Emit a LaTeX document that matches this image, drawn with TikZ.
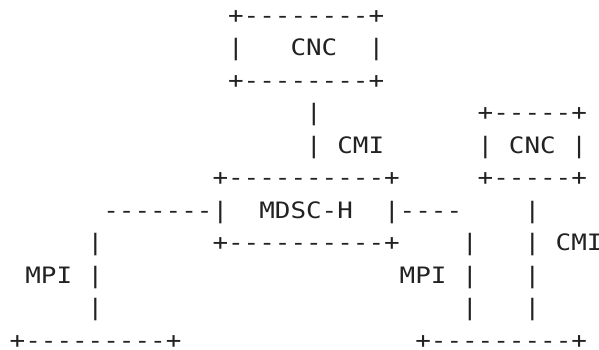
\documentclass[tikz,border=0pt]{standalone}
\usepackage{fontspec}
\setmonofont{DejaVu Sans Mono}[FakeStretch=1.147]
\definecolor{ink}{HTML}{222222}
\begin{document}
\begin{tikzpicture}[x=1pt,y=-1pt,
  seg/.style={inner sep=0pt,outer sep=0pt,anchor=base west,text=ink,
    font=\ttfamily\fontsize{22.6}{27}\selectfont}]
\useasboundingbox (0,0) rectangle (599,349);
\newcommand\sg[4]{\node[seg] (#1) at ({9.7+15.6*#2},{23+32.5*#3}) {#4};}
% row 0-2: top CNC box
\sg{cncTop}{14}{0}{+--------+}
\sg{cncL}{14}{1}{|}
\sg{cncT}{18}{1}{CNC}
\sg{cncR}{23}{1}{|}
\sg{cncBot}{14}{2}{+--------+}
% row 3
\sg{cmiA}{19}{3}{|}
\sg{cnc2Top}{30}{3}{+-----+}
% row 4
\sg{cmiB}{19}{4}{|}
\sg{cmiT}{21}{4}{CMI}
\sg{cnc2L}{30}{4}{|}
\sg{cnc2T}{32}{4}{CNC}
\sg{cnc2R}{36}{4}{|}
% row 5
\sg{mdTop}{13}{5}{+----------+}
\sg{cnc2Bot}{30}{5}{+-----+}
% row 6
\sg{leftH}{6}{6}{-------|}
\sg{mdT}{16}{6}{MDSC-H}
\sg{rightH}{24}{6}{|----}
\sg{cmi2A}{33}{6}{|}
% row 7
\sg{mpiLA}{5}{7}{|}
\sg{mdBot}{13}{7}{+----------+}
\sg{mpiRA}{29}{7}{|}
\sg{cmi2B}{33}{7}{|}
\sg{cmi2T}{35}{7}{CMI}
% row 8
\sg{mpiLT}{1}{8}{MPI}
\sg{mpiLB}{5}{8}{|}
\sg{mpiRT}{25}{8}{MPI}
\sg{mpiRB}{29}{8}{|}
\sg{cmi2C}{33}{8}{|}
% row 9
\sg{mpiLC}{5}{9}{|}
\sg{mpiRC}{29}{9}{|}
\sg{cmi2D}{33}{9}{|}
% row 10
\sg{pncL}{0}{10}{+---------+}
\sg{pncR}{26}{10}{+---------+}
\end{tikzpicture}
\end{document}
